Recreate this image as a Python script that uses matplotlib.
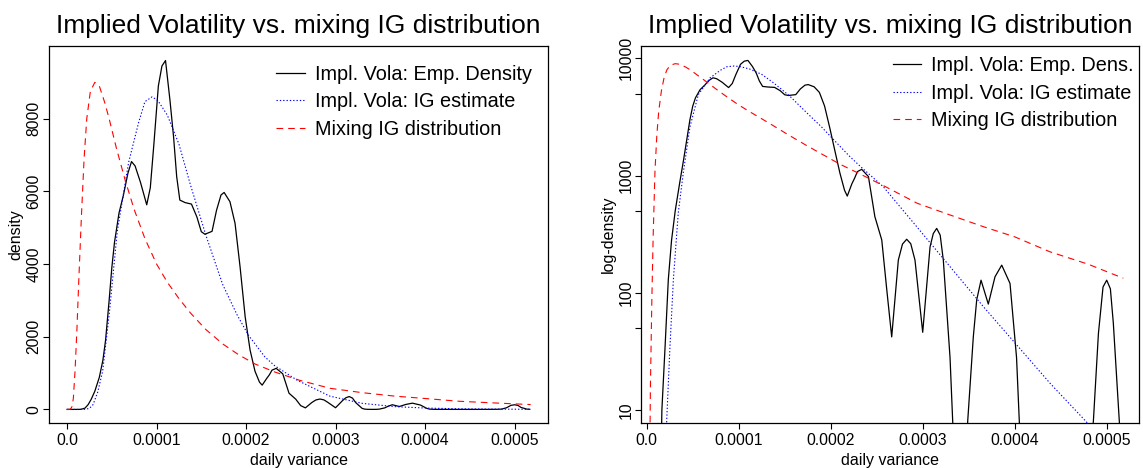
import numpy as np
import matplotlib
matplotlib.use("Agg")
import matplotlib.pyplot as plt
from matplotlib.ticker import FixedLocator, FixedFormatter

plt.rcParams["font.family"] = ["Liberation Sans", "DejaVu Sans"]

# daily variance in units of 1e-4
emp_x = [0.00, 0.12, 0.15, 0.165, 0.20, 0.235, 0.27, 0.31, 0.36, 0.40, 0.43, 0.47,
         0.50, 0.53, 0.58, 0.63, 0.68, 0.72, 0.76, 0.82, 0.89, 0.93, 0.97, 1.02,
         1.06, 1.10, 1.15, 1.19, 1.225, 1.26, 1.32, 1.39, 1.45, 1.50, 1.54, 1.62,
         1.67, 1.72, 1.755, 1.82, 1.877, 1.933, 1.99, 2.045, 2.10, 2.15, 2.18,
         2.23, 2.26, 2.29, 2.337, 2.41, 2.48, 2.555, 2.61, 2.663, 2.735, 2.78,
         2.826, 2.87, 2.916, 3.00, 3.08, 3.115, 3.152, 3.19, 3.224, 3.297, 3.326,
         3.36, 3.42, 3.46, 3.489, 3.55, 3.587, 3.634, 3.713, 3.786, 3.859, 3.949,
         4.02, 4.05, 4.10, 4.30, 4.50, 4.70, 4.80, 4.855, 4.91, 4.96, 5.00, 5.04,
         5.072, 5.137, 5.17]
emp_y = [0.001, 0.01, 2, 10, 35, 130, 280, 500, 880, 1350, 1900, 3000,
         3900, 4600, 5400, 5900, 6500, 6820, 6700, 6250, 5630, 6100, 7300, 8900,
         9450, 9600, 8500, 7500, 6400, 5760, 5690, 5650, 5300, 4890, 4820, 4900,
         5480, 5900, 5970, 5715, 5120, 3925, 2550, 1632, 1050, 750, 668,
         850, 950, 1080, 1130, 980, 446, 282, 105, 42, 190, 260,
         286, 262, 190, 46, 247, 320, 354, 310, 190, 28, 8,
         2, 0.8, 2, 8, 42, 87, 128, 80, 137, 172, 120,
         28, 8, 2, 0.5, 0.4, 1, 3, 8, 45, 112, 128, 108,
         55, 8, 3]

ig_x = [0.00, 0.15, 0.19, 0.217, 0.253, 0.29, 0.343, 0.398, 0.47, 0.561, 0.688,
        0.80, 0.87, 0.95, 1.014, 1.12, 1.25, 1.376, 1.55, 1.739, 1.90, 2.028,
        2.21, 2.318, 2.572, 2.935, 3.297, 3.66, 4.02, 4.384, 4.78, 5.17]
ig_y = [0.001, 0.05, 1.5, 8, 35, 130, 480, 1060, 2600, 4900, 6800,
        7900, 8470, 8600, 8500, 8100, 7300, 6200, 4800, 3435, 2600, 2036,
        1446, 1205, 802, 366, 167, 76, 36, 16.9, 7.9, 3.5]

mix_x = [0.00, 0.03, 0.04, 0.055, 0.07, 0.09, 0.11, 0.13, 0.16, 0.19, 0.22, 0.26,
         0.31, 0.36, 0.42, 0.47, 0.55, 0.65, 0.75, 0.87, 1.00, 1.12, 1.25, 1.38,
         1.55, 1.74, 1.92, 2.10, 2.32, 2.60, 2.94, 3.30, 3.66, 4.00, 4.38, 4.80,
         5.18]
mix_y = [0.001, 2, 15, 80, 300, 1100, 2200, 3500, 5300, 6900, 8000, 8750,
         9000, 8900, 8450, 8000, 7200, 6300, 5500, 4700, 4000, 3500, 3050, 2650,
         2200, 1800, 1500, 1250, 1030, 800, 580, 460, 366, 300, 224, 175,
         133]

x_ticks = [0.0, 0.0001, 0.0002, 0.0003, 0.0004, 0.0005]
x_tick_labels = ["0.0", "0.0001", "0.0002", "0.0003", "0.0004", "0.0005"]
lin_ticks = [0, 2000, 4000, 6000, 8000]
log_ticks = [10, 50, 100, 500, 1000, 5000, 10000]
log_tick_labels = ["10", "", "100", "", "1000", "", "10000"]

title = "Implied Volatility vs. mixing IG distribution"
labels_left = ["Impl. Vola: Emp. Density", "Impl. Vola: IG estimate", "Mixing IG distribution"]
labels_right = ["Impl. Vola: Emp. Dens.", "Impl. Vola: IG estimate", "Mixing IG distribution"]

ex = np.asarray(emp_x) * 1e-4
gx = np.asarray(ig_x) * 1e-4
mx = np.asarray(mix_x) * 1e-4

W, H = 1143, 468
fig = plt.figure(figsize=(W / 100, H / 100), dpi=100)
ax1 = fig.add_axes([49 / W, 1 - 423 / H, 499 / W, 377 / H])
ax2 = fig.add_axes([641 / W, 1 - 423 / H, 498 / W, 377 / H])


def draw(ax, labels):
    ax.plot(ex, emp_y, color="black", lw=0.9, label=labels[0])
    ax.plot(gx, ig_y, color="blue", lw=0.8, dashes=(1.2, 1.8), label=labels[1])
    ax.plot(mx, mix_y, color="red", lw=0.8, dashes=(6, 4.5), label=labels[2])
    ax.set_xticks(x_ticks)
    ax.set_xticklabels(x_tick_labels)
    ax.set_xlabel("daily variance", fontsize=11.5, labelpad=3)
    ax.set_title(title, fontsize=19, pad=9)
    ax.tick_params(labelsize=11.3, length=4.5, width=0.8, direction="out", pad=3)
    ax.tick_params(axis="y", pad=1)
    for spine in ax.spines.values():
        spine.set_linewidth(0.9)


def add_legend(ax, x0, y0):
    ax.legend(loc="upper left", bbox_to_anchor=(x0, y0), frameon=False,
              fontsize=14.3, handlelength=1.45, handletextpad=0.5,
              labelspacing=0.42, borderpad=0, borderaxespad=0)


# linear panel
draw(ax1, labels_left)
ax1.set_xlim(-0.0000202, 0.0005374)
ax1.set_ylim(-374, 10000)
ax1.set_yticks(lin_ticks)
ax1.set_yticklabels([str(v) for v in lin_ticks], rotation=90, va="center")
ax1.set_ylabel("density", fontsize=11.5, labelpad=2)
add_legend(ax1, 0.455, 0.95)

# log panel
draw(ax2, labels_right)
ax2.set_yscale("log")
ax2.set_xlim(-0.0000062, 0.0005351)
ax2.set_ylim(7.74, 12740)
ax2.yaxis.set_major_locator(FixedLocator(log_ticks))
ax2.yaxis.set_major_formatter(FixedFormatter(log_tick_labels))
ax2.yaxis.set_minor_locator(FixedLocator([]))
for label in ax2.get_yticklabels():
    label.set_rotation(90)
    label.set_va("center")
ax2.set_ylabel("log-density", fontsize=11.5, labelpad=2)
add_legend(ax2, 0.5054, 0.973)

fig.savefig("out.png", dpi=100)
